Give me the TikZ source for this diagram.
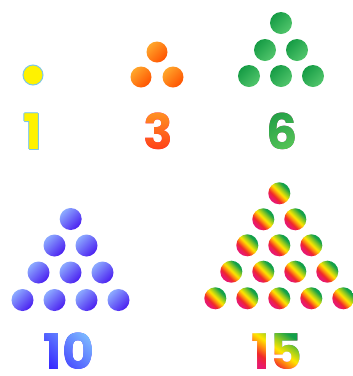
\documentclass[tikz,border=0pt]{standalone}
\usepackage{fontspec}
\newfontfamily\pop{Poppins}
\usetikzlibrary{calc}
\definecolor{rbpink}{HTML}{E8196E}
\definecolor{rbred}{HTML}{F0282A}
\definecolor{rborange}{HTML}{FF8A10}
\definecolor{rbyellow}{HTML}{FFE600}
\definecolor{rblime}{HTML}{9ACD1E}
\definecolor{rbgreen}{HTML}{12A04A}
\definecolor{ylw}{HTML}{FFF200}
\definecolor{ylwline}{HTML}{7CC6E8}
\definecolor{orA}{HTML}{FFA62B}
\definecolor{orB}{HTML}{FF5200}
\definecolor{grA}{HTML}{169C45}
\definecolor{grB}{HTML}{52C66C}
\definecolor{blA}{HTML}{8CAAFF}
\definecolor{blB}{HTML}{4A1EF0}
\definecolor{tthreeA}{HTML}{FF9E25}
\definecolor{tthreeB}{HTML}{FF3218}
\definecolor{tsixA}{HTML}{1F9C45}
\definecolor{tsixB}{HTML}{5CC85A}
\definecolor{ttenA}{HTML}{80C0FF}
\definecolor{ttenB}{HTML}{3424FF}
\pgfdeclareverticalshading{rainbow}{100bp}{color(0bp)=(rbpink); color(30bp)=(rbpink); color(38bp)=(rbred); color(45bp)=(rborange); color(52bp)=(rbyellow); color(60bp)=(rblime); color(70bp)=(rbgreen); color(100bp)=(rbgreen)}
\newcommand{\numfont}{\pop\bfseries\fontsize{49}{49}\selectfont}
\newcommand{\outlinecopies}[1]{%
  \makebox[0pt]{\raisebox{1.1pt}{#1}}%
  \makebox[0pt]{\raisebox{-1.1pt}{#1}}%
  \makebox[0pt]{\hspace{2.2pt}#1}%
  \makebox[0pt]{\hspace{-2.2pt}#1}%
  \makebox[0pt]{\hspace{1.6pt}\raisebox{0.8pt}{#1}}%
  \makebox[0pt]{\hspace{-1.6pt}\raisebox{0.8pt}{#1}}%
  \makebox[0pt]{\hspace{1.6pt}\raisebox{-0.8pt}{#1}}%
  \makebox[0pt]{\hspace{-1.6pt}\raisebox{-0.8pt}{#1}}}
\begin{document}
\begin{tikzpicture}[x=1pt, y=-1pt,
  num/.style={font=\numfont, inner sep=0pt},
  gradtext/.style={blend mode=lighten},
  ballY/.style={circle, minimum size=20pt, inner sep=0pt, fill=ylw, draw=ylwline, line width=1pt},
  ballO/.style={circle, minimum size=21pt, inner sep=0pt, top color=orA, bottom color=orB, shading angle=45},
  ballG/.style={circle, minimum size=22pt, inner sep=0pt, top color=grA, bottom color=grB, shading angle=45},
  ballB/.style={circle, minimum size=22pt, inner sep=0pt, top color=blA, bottom color=blB, shading angle=45},
  ballR/.style={circle, minimum size=22pt, inner sep=0pt, shading=rainbow, shading angle=-45}]
\fill[white] (0,0) rectangle (353,376);
\useasboundingbox (0,0) rectangle (353,376);
% 1
\node[ballY] (y1) at (33,75) {};
\node[num, text=ylwline] (n1o) at (33,132) {\outlinecopies{1}};
\node[num, text=ylw] (n1) at (33,132) {1};
% 3
\node[ballO] (o1) at (157,52) {};
\node[ballO] (o2) at (141,77) {};
\node[ballO] (o3) at (173,77) {};
\node[num, text=black] (n3) at (158,131) {3};
\fill[gradtext, top color=tthreeA, bottom color=tthreeB]
  ([shift={(-4pt,-6pt)}]n3.south west) rectangle ([shift={(4pt,6pt)}]n3.north east);
% 6
\node[ballG] (g1) at (281,23) {};
\node[ballG] (g2) at (265,50) {};
\node[ballG] (g3) at (297,50) {};
\node[ballG] (g4) at (249,76) {};
\node[ballG] (g5) at (281,76) {};
\node[ballG] (g6) at (313,76) {};
\node[num, text=black] (n6) at (282,131) {6};
\fill[gradtext, top color=tsixA, bottom color=tsixB, shading angle=30]
  ([shift={(-4pt,-6pt)}]n6.south west) rectangle ([shift={(4pt,6pt)}]n6.north east);
% 10
\foreach \i/\x/\y in {1/70.7/219, 2/54.5/245.5, 3/86.5/245.5, 4/38.5/272.5, 5/70.5/272.5, 6/102.5/272.5, 7/22.5/300, 8/54.5/300, 9/86.5/300, 10/118.5/300}{
  \node[ballB] (b\i) at (\x,\y) {};
}
\node[num, text=black] (n10) at (69,351) {10};
\fill[gradtext, top color=ttenA, bottom color=ttenB, shading angle=-45]
  ([shift={(-4pt,-6pt)}]n10.south west) rectangle ([shift={(4pt,6pt)}]n10.north east);
% 15
\foreach \i/\x/\y in {1/279.3/193.3, 2/263.3/219.3, 3/295.3/219.3, 4/247.3/245.3, 5/279.3/245.3, 6/311.3/245.3, 7/231.3/271.7, 8/263.3/271.7, 9/295.3/271.7, 10/327.3/271.7, 11/215.3/298.3, 12/247.3/298.3, 13/279.3/298.3, 14/311.3/298.3, 15/343.3/298.3}{
  \node[ballR] (r\i) at (\x,\y) {};
}
\node[num, text=black] (n15) at (277,351.5) {15};
\fill[gradtext, shading=rainbow, shading angle=-35]
  ([shift={(-4pt,-6pt)}]n15.south west) rectangle ([shift={(4pt,6pt)}]n15.north east);
\end{tikzpicture}
\end{document}
